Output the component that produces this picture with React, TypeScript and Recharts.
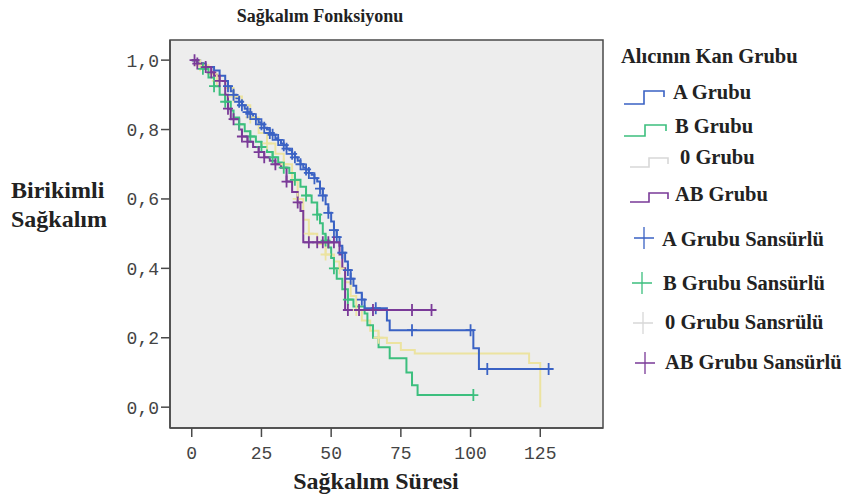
import React from "react";
import { LineChart, Line, XAxis, YAxis, ReferenceArea, Label } from "recharts";

// Kaplan-Meier estimates per blood group: [time, survival, censored]
const groupA = [
  [0, 1, 0], [3, 0.99, 0], [5, 0.98, 0], [8, 0.97, 0], [10, 0.955, 0], [12, 0.94, 0], [13, 0.925, 1],
  [14, 0.91, 0], [15, 0.9, 1], [16, 0.89, 0], [17, 0.88, 1], [18, 0.87, 1], [19, 0.86, 0], [20, 0.85, 1],
  [21, 0.845, 1], [22, 0.835, 0], [23, 0.83, 1], [24, 0.82, 0], [25, 0.815, 1], [26, 0.805, 1], [27, 0.8, 0],
  [28, 0.79, 1], [29, 0.785, 1], [30, 0.775, 0], [31, 0.77, 1], [32, 0.76, 0], [33, 0.755, 1], [34, 0.745, 1],
  [35, 0.74, 0], [36, 0.73, 1], [37, 0.72, 1], [38, 0.71, 0], [39, 0.7, 1], [40, 0.69, 0], [41, 0.685, 1],
  [42, 0.675, 1], [43, 0.67, 0], [44, 0.66, 1], [45, 0.65, 0], [46, 0.63, 1], [47, 0.61, 1], [48, 0.585, 0],
  [49, 0.56, 1], [50, 0.535, 0], [51, 0.51, 1], [52, 0.49, 1], [53, 0.465, 0], [54, 0.445, 1], [55, 0.42, 0],
  [56, 0.395, 1], [57, 0.37, 1], [58, 0.35, 0], [59, 0.33, 0], [61, 0.31, 1], [62, 0.285, 0], [66, 0.285, 1],
  [70, 0.25, 0], [71, 0.222, 0], [79, 0.222, 1], [100, 0.222, 1], [101, 0.17, 0], [103, 0.11, 0],
  [106, 0.11, 1], [128, 0.11, 1],
];
const groupB = [
  [0, 1, 0], [2, 0.99, 0], [4, 0.975, 1], [6, 0.95, 0], [8, 0.925, 1], [10, 0.9, 0], [12, 0.88, 1],
  [14, 0.855, 0], [15, 0.835, 0], [17, 0.815, 1], [19, 0.795, 0], [21, 0.78, 1], [23, 0.765, 0],
  [25, 0.75, 1], [27, 0.735, 0], [29, 0.72, 1], [31, 0.705, 0], [33, 0.69, 1], [35, 0.675, 0],
  [37, 0.655, 1], [39, 0.635, 0], [41, 0.61, 1], [43, 0.59, 0], [45, 0.555, 1], [46, 0.53, 0],
  [47, 0.5, 0], [48, 0.48, 1], [49, 0.46, 0], [50, 0.43, 0], [51, 0.4, 1], [52, 0.37, 0], [54, 0.34, 0],
  [56, 0.31, 1], [58, 0.29, 0], [62, 0.27, 0], [63, 0.236, 0], [65, 0.2, 0], [67, 0.173, 0], [71, 0.141, 0],
  [77, 0.1, 0], [79, 0.063, 0], [81, 0.035, 0], [101, 0.035, 1],
];
const group0 = [
  [0, 1, 0], [3, 0.985, 1], [6, 0.96, 0], [9, 0.94, 1], [12, 0.92, 0], [15, 0.895, 1], [18, 0.87, 0],
  [21, 0.835, 1], [24, 0.79, 0], [27, 0.76, 1], [30, 0.73, 0], [33, 0.7, 1], [36, 0.65, 0], [38, 0.6, 1],
  [40, 0.54, 0], [42, 0.5, 1], [45, 0.47, 0], [48, 0.44, 1], [51, 0.42, 0], [53, 0.4, 1], [55, 0.36, 0],
  [57, 0.32, 0], [59, 0.28, 1], [61, 0.25, 0], [64, 0.22, 0], [67, 0.2, 1], [70, 0.185, 0], [75, 0.165, 0],
  [80, 0.155, 0], [121, 0.127, 0], [125, 0, 0],
];
const groupAB = [
  [0, 1, 0], [1, 1, 1], [2, 0.99, 1], [4, 0.98, 0], [5, 0.98, 1], [7, 0.965, 1], [8, 0.955, 0],
  [10, 0.94, 1], [12, 0.9, 0], [13, 0.86, 1], [14, 0.83, 0], [15, 0.83, 1], [17, 0.8, 0], [18, 0.78, 1],
  [20, 0.765, 1], [22, 0.75, 0], [24, 0.735, 1], [26, 0.72, 1], [28, 0.71, 0], [30, 0.7, 1], [32, 0.69, 0],
  [34, 0.65, 1], [36, 0.62, 0], [38, 0.59, 1], [39, 0.565, 0], [40, 0.475, 0], [42, 0.475, 1],
  [45, 0.475, 1], [47, 0.475, 1], [49, 0.475, 1], [51, 0.475, 1], [53, 0.44, 0], [54, 0.4, 0],
  [55, 0.28, 0], [56, 0.28, 1], [60, 0.28, 1], [65, 0.28, 1], [79, 0.28, 1], [86, 0.28, 1],
];

const xTicks = [0, 25, 50, 75, 100, 125];
const yTicks = [0, 0.2, 0.4, 0.6, 0.8, 1.0];
const groupNames = ["A Grubu", "B Grubu", "0 Grubu", "AB Grubu"];
const censorNames = ["A Grubu Sansürlü", "B Grubu Sansürlü", "0 Grubu Sansrülü", "AB Grubu Sansürlü"];
const colors = ["#3a62c4", "#3cbf7e", "#ece3a0", "#7a3a98"];
const legendIconColors = ["#3a62c4", "#3cbf7e", "#d8d8d8", "#7a3a98"];

const toRows = (arr: number[][]) => arr.map(([t, s, c]) => ({ t, s, c }));
const series = [
  { name: groupNames[2], data: toRows(group0), color: colors[2] },
  { name: groupNames[1], data: toRows(groupB), color: colors[1] },
  { name: groupNames[0], data: toRows(groupA), color: colors[0] },
  { name: groupNames[3], data: toRows(groupAB), color: colors[3] },
];

const X_DOMAIN: [number, number] = [-7.8, 147.5];
const Y_DOMAIN: [number, number] = [-0.06, 1.058];

const serif = "'Liberation Serif', 'Times New Roman', serif";
const mono = "'Liberation Mono', 'Courier New', monospace";

const makeDot = (color: string) => (p: any) => {
  const { cx, cy, payload, index } = p;
  if (!payload || !payload.c || cx == null || cy == null) return <g key={`d${index}`} />;
  return (
    <path
      key={`d${index}`}
      d={`M${cx - 5},${cy}h10M${cx},${cy - 6}v12`}
      stroke={color}
      strokeWidth={1.8}
      fill="none"
    />
  );
};

const LegendBox = () => {
  const rows = [
    { tx: 673, ty: 99, x0: 624, x1: 664, low: 104, high: 91 },
    { tx: 675, ty: 133, x0: 624, x1: 666, low: 136, high: 125 },
    { tx: 680, ty: 164, x0: 630, x1: 668, low: 167, high: 158 },
    { tx: 675, ty: 201, x0: 630, x1: 668, low: 202, high: 193 },
  ];
  const crows = [
    { cx: 644, cy: 238, tx: 662, ty: 246 },
    { cx: 642, cy: 283, tx: 663, ty: 290 },
    { cx: 643, cy: 323, tx: 665, ty: 329 },
    { cx: 645, cy: 363, tx: 665, ty: 369 },
  ];
  return (
    <svg
      width={855}
      height={499}
      style={{ position: "absolute", left: 0, top: 0, pointerEvents: "none" }}
    >
      <g fontFamily={serif} fontWeight="bold" fill="#222">
        <text x={621} y={63} fontSize={20.5}>Alıcının Kan Grubu</text>
        {rows.map((r, i) => {
          const mid = (r.x0 + r.x1) / 2;
          return (
            <g key={`g${i}`}>
              <path
                d={`M${r.x0},${r.low}H${mid}V${r.high}H${r.x1}V${r.high + 6}`}
                stroke={legendIconColors[i]}
                strokeWidth={1.6}
                fill="none"
              />
              <text x={r.tx} y={r.ty} fontSize={20.5}>{groupNames[i]}</text>
            </g>
          );
        })}
        {crows.map((r, i) => (
          <g key={`c${i}`}>
            <path
              d={`M${r.cx - 10},${r.cy}h20M${r.cx},${r.cy - 11}v22`}
              stroke={legendIconColors[i]}
              strokeWidth={1.3}
              fill="none"
            />
            <text x={r.tx} y={r.ty} fontSize={20.5}>{censorNames[i]}</text>
          </g>
        ))}
      </g>
    </svg>
  );
};

export default function App() {
  return (
    <div style={{ position: "absolute", left: 0, top: 0, width: 855, height: 499, background: "#fff" }}>
      <div
        style={{
          position: "absolute",
          left: 0,
          width: 640,
          top: 6,
          textAlign: "center",
          fontFamily: serif,
          fontWeight: "bold",
          fontSize: 18,
          color: "#222",
          zIndex: 2,
        }}
      >
        Sağkalım Fonksiyonu
      </div>
      <LineChart width={855} height={499} margin={{ top: 40, right: 252, bottom: 31, left: 0 }}>
        <ReferenceArea
          x1={X_DOMAIN[0]}
          x2={X_DOMAIN[1]}
          y1={Y_DOMAIN[0]}
          y2={Y_DOMAIN[1]}
          fill="#ededed"
          fillOpacity={1}
          stroke="#4a4a4a"
          strokeWidth={1.5}
          ifOverflow="visible"
        />
        <XAxis
          type="number"
          dataKey="t"
          domain={X_DOMAIN}
          ticks={xTicks}
          allowDataOverflow
          height={40}
          tickSize={9}
          tickMargin={9}
          stroke="#4a4a4a"
          strokeWidth={1.5}
          tick={{ fontFamily: mono, fontSize: 18, fill: "#444" }}
        >
          <Label
            content={() => (
              <text x={376} y={489} textAnchor="middle" fontFamily={serif} fontWeight="bold" fontSize={24} fill="#222">
                Sağkalım Süresi
              </text>
            )}
          />
        </XAxis>
        <YAxis
          type="number"
          dataKey="s"
          domain={Y_DOMAIN}
          ticks={yTicks}
          allowDataOverflow
          width={170}
          tickSize={9}
          tickMargin={2}
          stroke="#4a4a4a"
          strokeWidth={1.5}
          tickFormatter={(v: number) => v.toFixed(1).replace(".", ",")}
          tick={{ fontFamily: mono, fontSize: 18, fill: "#444" }}
        >
          <Label
            content={() => (
              <text fontFamily={serif} fontWeight="bold" fontSize={24} fill="#222">
                <tspan x={11} y={198}>Birikimli</tspan>
                <tspan x={11} y={227}>Sağkalım</tspan>
              </text>
            )}
          />
        </YAxis>
        {series.map((s) => (
          <Line
            key={s.name}
            name={s.name}
            data={s.data}
            dataKey="s"
            type="stepAfter"
            stroke={s.color}
            strokeWidth={2}
            dot={makeDot(s.color)}
            activeDot={false}
            isAnimationActive={false}
          />
        ))}
      </LineChart>
      <LegendBox />
    </div>
  );
}
